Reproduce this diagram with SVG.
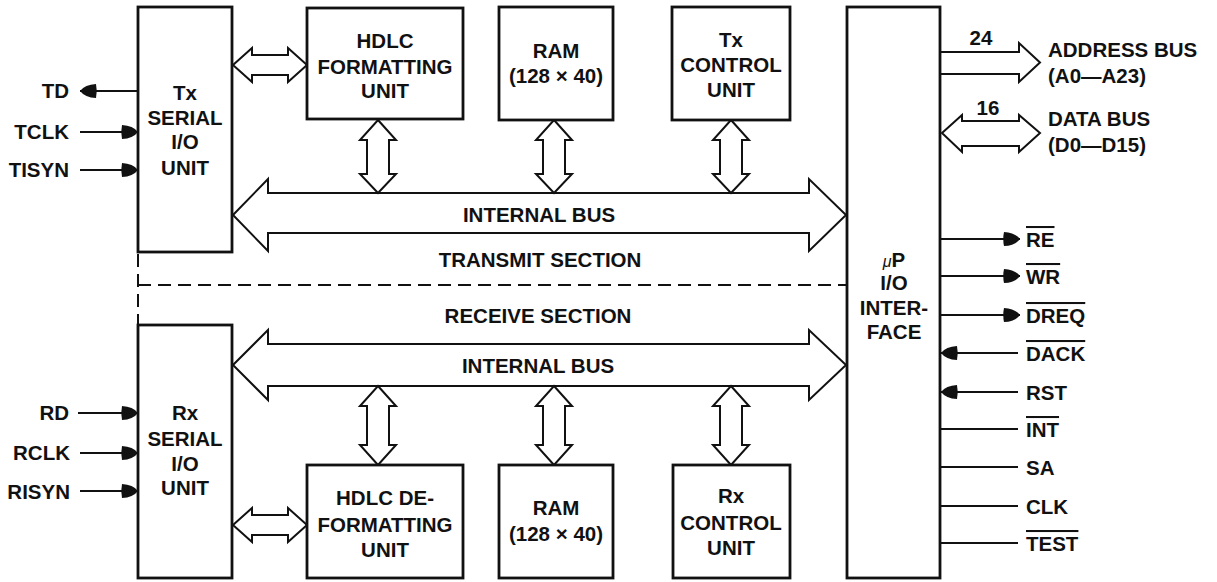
<svg xmlns="http://www.w3.org/2000/svg" width="1217" height="582" viewBox="0 0 1217 582">
<defs>
<style>
.box{fill:#fff;stroke:#111;stroke-width:2.8}
.bus{fill:#fff;stroke:#111;stroke-width:2;stroke-linejoin:miter}
.sig{fill:none;stroke:#111;stroke-width:1.8}
.dash{fill:none;stroke:#111;stroke-width:2;stroke-dasharray:13 7}
text{font-family:"Liberation Sans",Arial,Helvetica,sans-serif;font-weight:bold;font-size:20.5px;fill:#111}
.c{text-anchor:middle}
.e{text-anchor:end}
.ov{text-decoration:overline}
</style>
<marker id="ah" viewBox="-18 -8 19 16" refX="0" refY="0" markerWidth="19" markerHeight="16" markerUnits="userSpaceOnUse" orient="auto">
<path d="M0,0 Q-5,-6.5 -16,-7 Q-17.5,0 -16,7 Q-5,6.5 0,0 Z" fill="#111"/>
</marker>
</defs>
<rect width="1217" height="582" fill="#fff"/>

<g id="connectors">
<!-- dashed section divider -->
<path class="dash" d="M138,254 V325"/>
<path class="dash" d="M138,285 H847"/>
<!-- internal buses -->
<path class="bus" d="M233,215 L268,179 L268,193 L809,193 L809,179 L846,215 L809,251 L809,233 L268,233 L268,251 Z"/>
<path class="bus" d="M233,365 L268,330 L268,344 L809,344 L809,330 L846,365 L809,400 L809,386 L268,386 L268,400 Z"/>
<!-- vertical Tx arrows -->
<path class="bus" d="M378,120 L396,140 L389,140 L389,174 L396,174 L378,193 L360,174 L367,174 L367,140 L360,140 Z"/>
<path class="bus" d="M554,120 L572,140 L565,140 L565,174 L572,174 L554,193 L536,174 L543,174 L543,140 L536,140 Z"/>
<path class="bus" d="M731,120 L749,140 L742,140 L742,174 L749,174 L731,193 L713,174 L720,174 L720,140 L713,140 Z"/>
<!-- vertical Rx arrows -->
<path class="bus" d="M378,386 L396,406 L389,406 L389,445 L396,445 L378,465 L360,445 L367,445 L367,406 L360,406 Z"/>
<path class="bus" d="M554,386 L572,406 L565,406 L565,445 L572,445 L554,465 L536,445 L543,445 L543,406 L536,406 Z"/>
<path class="bus" d="M731,386 L749,406 L742,406 L742,445 L749,445 L731,465 L713,445 L720,445 L720,406 L713,406 Z"/>
<!-- serial <-> HDLC arrows -->
<path class="bus" d="M233,65 L252,48 L252,55 L288,55 L288,48 L307,65 L288,82 L288,75 L252,75 L252,82 Z"/>
<path class="bus" d="M233,525 L252,508 L252,515 L288,515 L288,508 L307,525 L288,542 L288,535 L252,535 L252,542 Z"/>
<!-- address and data bus -->
<path class="bus" d="M940,52 L1019,52 L1019,43 L1040,62.5 L1019,82 L1019,74 L940,74"/>
<path class="bus" d="M942,133 L962,115 L962,121 L1019,121 L1019,115 L1040,133 L1019,152 L1019,146 L962,146 L962,152 Z"/>
<!-- left signals -->
<line class="sig" x1="138" y1="91" x2="80" y2="91" marker-end="url(#ah)"/>
<line class="sig" x1="80" y1="132" x2="138" y2="132" marker-end="url(#ah)"/>
<line class="sig" x1="80" y1="170" x2="138" y2="170" marker-end="url(#ah)"/>
<line class="sig" x1="78" y1="413" x2="138" y2="413" marker-end="url(#ah)"/>
<line class="sig" x1="80" y1="453" x2="138" y2="453" marker-end="url(#ah)"/>
<line class="sig" x1="80" y1="491" x2="138" y2="491" marker-end="url(#ah)"/>
<!-- right signals -->
<line class="sig" x1="940" y1="239" x2="1020" y2="239" marker-end="url(#ah)"/>
<line class="sig" x1="940" y1="276" x2="1020" y2="276" marker-end="url(#ah)"/>
<line class="sig" x1="940" y1="315" x2="1020" y2="315" marker-end="url(#ah)"/>
<line class="sig" x1="1018" y1="353" x2="941" y2="353" marker-end="url(#ah)"/>
<line class="sig" x1="1018" y1="392" x2="941" y2="392" marker-end="url(#ah)"/>
<line class="sig" x1="940" y1="429" x2="1018" y2="429"/>
<line class="sig" x1="940" y1="467" x2="1018" y2="467"/>
<line class="sig" x1="940" y1="506" x2="1018" y2="506"/>
<line class="sig" x1="940" y1="543" x2="1018" y2="543"/>
</g>

<g id="tx-serial">
<rect class="box" x="138" y="7" width="94" height="245"/>
<text class="c" x="185" y="100">Tx</text>
<text class="c" x="185" y="125">SERIAL</text>
<text class="c" x="185" y="149">I/O</text>
<text class="c" x="185" y="175">UNIT</text>
</g>
<g id="hdlc-fmt">
<rect class="box" x="307" y="8" width="156" height="111"/>
<text class="c" x="385" y="48">HDLC</text>
<text class="c" x="385" y="74">FORMATTING</text>
<text class="c" x="385" y="98">UNIT</text>
</g>
<g id="tx-ram">
<rect class="box" x="499" y="7" width="114" height="113"/>
<text class="c" x="556" y="58">RAM</text>
<text class="c" x="556" y="83">(128 × 40)</text>
</g>
<g id="tx-ctrl">
<rect class="box" x="672" y="7" width="118" height="113"/>
<text class="c" x="731" y="47">Tx</text>
<text class="c" x="731" y="72">CONTROL</text>
<text class="c" x="731" y="97">UNIT</text>
</g>
<g id="up-io">
<rect class="box" x="847" y="7" width="93" height="571"/>
<text class="c" x="894" y="267"><tspan style="font-weight:normal;font-style:italic;font-size:16px">μ</tspan>P</text>
<text class="c" x="894" y="290">I/O</text>
<text class="c" x="894" y="315">INTER-</text>
<text class="c" x="894" y="339">FACE</text>
</g>
<g id="rx-serial">
<rect class="box" x="138" y="325" width="94" height="253"/>
<text class="c" x="185" y="420">Rx</text>
<text class="c" x="185" y="446">SERIAL</text>
<text class="c" x="185" y="471">I/O</text>
<text class="c" x="185" y="495">UNIT</text>
</g>
<g id="hdlc-defmt">
<rect class="box" x="307" y="465" width="156" height="113"/>
<text class="c" x="385" y="505">HDLC DE-</text>
<text class="c" x="385" y="532">FORMATTING</text>
<text class="c" x="385" y="557">UNIT</text>
</g>
<g id="rx-ram">
<rect class="box" x="499" y="465" width="114" height="113"/>
<text class="c" x="556" y="515">RAM</text>
<text class="c" x="556" y="541">(128 × 40)</text>
</g>
<g id="rx-ctrl">
<rect class="box" x="673" y="465" width="117" height="113"/>
<text class="c" x="731" y="503">Rx</text>
<text class="c" x="731" y="530">CONTROL</text>
<text class="c" x="731" y="555">UNIT</text>
</g>

<g id="labels">
<text class="c" x="539" y="222">INTERNAL BUS</text>
<text class="c" x="540" y="267">TRANSMIT SECTION</text>
<text class="c" x="538" y="323">RECEIVE SECTION</text>
<text class="c" x="538" y="373">INTERNAL BUS</text>
<text class="e" x="69" y="98">TD</text>
<text class="e" x="69" y="139">TCLK</text>
<text class="e" x="69" y="177">TISYN</text>
<text class="e" x="69" y="420">RD</text>
<text class="e" x="70" y="460">RCLK</text>
<text class="e" x="70" y="499">RISYN</text>
<text class="c" x="981" y="45">24</text>
<text class="c" x="988" y="115">16</text>
<text x="1048" y="57">ADDRESS BUS</text>
<text x="1048" y="83">(A0—A23)</text>
<text x="1048" y="126">DATA BUS</text>
<text x="1048" y="152">(D0—D15)</text>
<text x="1026" y="247"><tspan class="ov">RE</tspan></text>
<text x="1026" y="284"><tspan class="ov">WR</tspan></text>
<text x="1026" y="323"><tspan class="ov">DREQ</tspan></text>
<text x="1026" y="361"><tspan class="ov">DACK</tspan></text>
<text x="1026" y="400">RST</text>
<text x="1026" y="437"><tspan class="ov">INT</tspan></text>
<text x="1026" y="475">SA</text>
<text x="1026" y="514">CLK</text>
<text x="1026" y="551"><tspan class="ov">TEST</tspan></text>
</g>
</svg>
